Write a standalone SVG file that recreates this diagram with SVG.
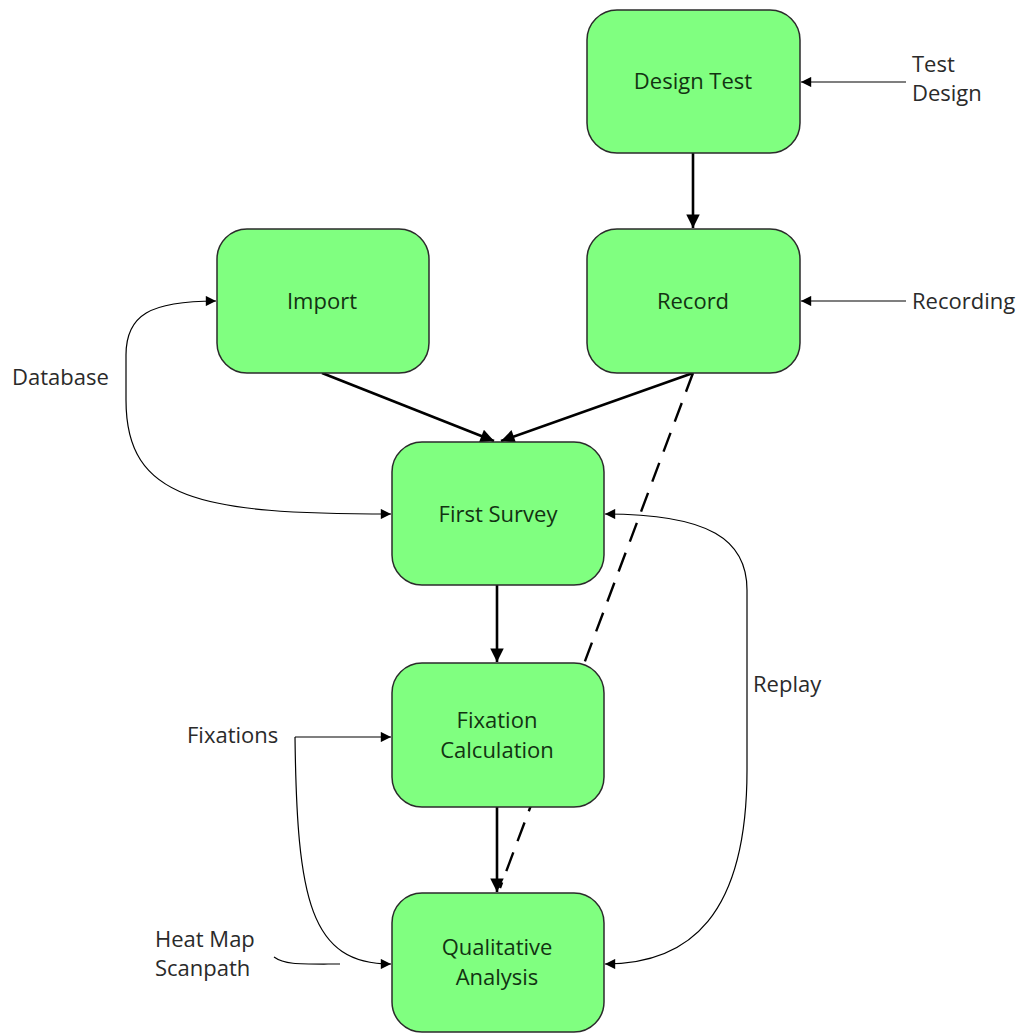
<svg xmlns="http://www.w3.org/2000/svg" width="1024" height="1033" viewBox="0 0 1024 1033">
  <style>
    .box { fill: #80ff80; stroke: #2b2b2b; stroke-width: 1.5; }
    .lbl { font-family: "Open Sans", "Liberation Sans", sans-serif; font-size: 22px; fill: #123312; text-anchor: middle; }
    .ext { font-family: "Open Sans", "Liberation Sans", sans-serif; font-size: 22px; fill: #2a2a2a; }
    .thick { fill: none; stroke: #000; stroke-width: 2.6; }
    .thin { fill: none; stroke: #000; stroke-width: 1.2; }
    .dash { fill: none; stroke: #000; stroke-width: 2.4; stroke-dasharray: 20 12; }
  </style>
  <defs>
    <marker id="ahThick" viewBox="0 0 10 10" refX="10" refY="5" markerWidth="5.6" markerHeight="5.2" orient="auto" markerUnits="strokeWidth">
      <path d="M0,0 L10,5 L0,10 z" fill="#000"/>
    </marker>
    <marker id="ahThin" viewBox="0 0 10 10" refX="10" refY="5" markerWidth="10" markerHeight="8.5" orient="auto" markerUnits="strokeWidth">
      <path d="M0,0 L10,5 L0,10 z" fill="#000"/>
    </marker>
  </defs>

  <rect width="1024" height="1033" fill="#fff"/>

  <!-- dashed link runs underneath the boxes -->
  <g id="connectors">
    <path class="dash" d="M693,373 L500,888"/>
    <path class="thick" d="M693,153 L693,228" marker-end="url(#ahThick)"/>
    <path class="thick" d="M322,373 L494,441" marker-end="url(#ahThick)"/>
    <path class="thick" d="M693,373 L501,441" marker-end="url(#ahThick)"/>
    <path class="thick" d="M497,585 L497,662" marker-end="url(#ahThick)"/>
    <path class="thick" d="M497,807 L497,892" marker-end="url(#ahThick)"/>
    <path class="thin" d="M906,82 L801,82" marker-end="url(#ahThin)"/>
    <path class="thin" d="M906,301 L801,301" marker-end="url(#ahThin)"/>
    <path class="thin" d="M126,400 L126,355 C126,315 150,301 216,301" marker-end="url(#ahThin)"/>
    <path class="thin" d="M126,400 C126,500 200,514 391,514" marker-end="url(#ahThin)"/>
    <path class="thin" d="M747,640 L747,590 C747,540 710,514 605,514" marker-end="url(#ahThin)"/>
    <path class="thin" d="M747,640 L747,770 C747,915 690,964 605,964" marker-end="url(#ahThin)"/>
    <path class="thin" d="M295,737 L391,737" marker-end="url(#ahThin)"/>
    <path class="thin" d="M295,737 C297,900 310,964 391,964" marker-end="url(#ahThin)"/>
    <path class="thin" d="M274,957 C285,965 300,964 340,964"/>
  </g>

  <g id="design-test">
    <rect class="box" x="587" y="10" width="213" height="143" rx="30"/>
    <text class="lbl" x="693" y="89">Design Test</text>
  </g>
  <g id="import">
    <rect class="box" x="217" y="229" width="212" height="144" rx="30"/>
    <text class="lbl" x="322" y="309">Import</text>
  </g>
  <g id="record">
    <rect class="box" x="587" y="229" width="213" height="144" rx="30"/>
    <text class="lbl" x="693" y="309">Record</text>
  </g>
  <g id="first-survey">
    <rect class="box" x="392" y="442" width="212" height="143" rx="30"/>
    <text class="lbl" x="498" y="522">First Survey</text>
  </g>
  <g id="fixation-calculation">
    <rect class="box" x="392" y="663" width="212" height="144" rx="30"/>
    <text class="lbl" x="497" y="728">Fixation</text>
    <text class="lbl" x="497" y="758">Calculation</text>
  </g>
  <g id="qualitative-analysis">
    <rect class="box" x="392" y="893" width="212" height="139" rx="30"/>
    <text class="lbl" x="497" y="955">Qualitative</text>
    <text class="lbl" x="497" y="985">Analysis</text>
  </g>

  <g id="labels">
    <text class="ext" x="912" y="72">Test</text>
    <text class="ext" x="912" y="101">Design</text>
    <text class="ext" x="912" y="309">Recording</text>
    <text class="ext" x="12" y="385">Database</text>
    <text class="ext" x="753" y="692">Replay</text>
    <text class="ext" x="187" y="743">Fixations</text>
    <text class="ext" x="155" y="947">Heat Map</text>
    <text class="ext" x="155" y="976">Scanpath</text>
  </g>
</svg>
